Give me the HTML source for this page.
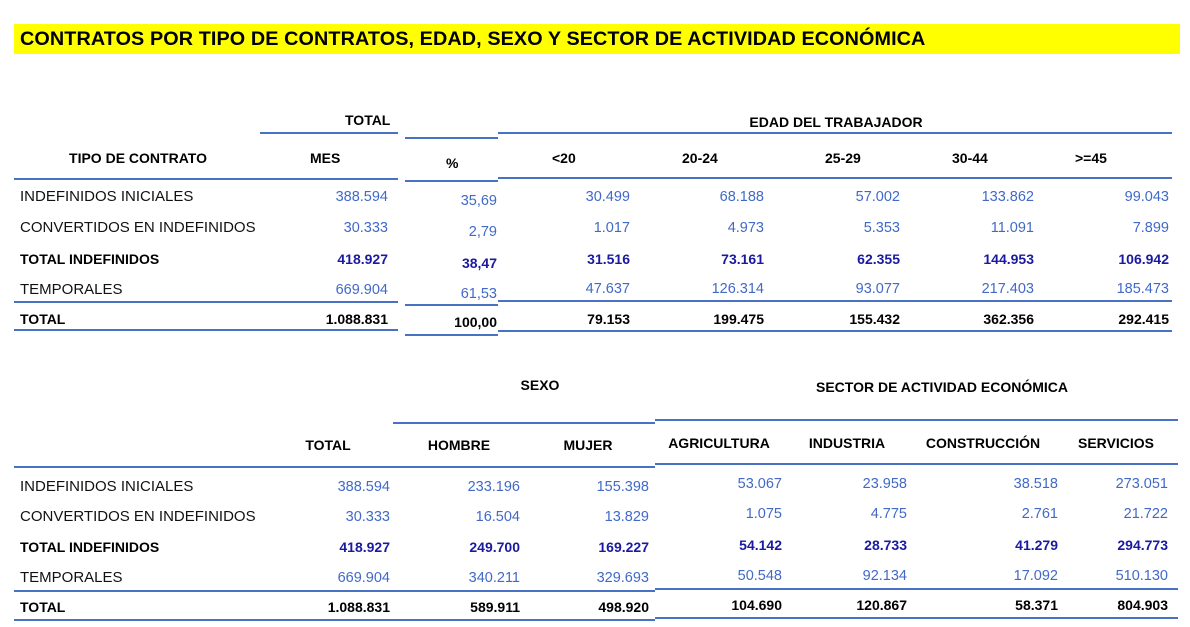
<!DOCTYPE html>
<html><head><meta charset="utf-8"><style>
body{margin:0;width:1190px;height:627px;background:#fff;position:relative;overflow:hidden;font-family:"Liberation Sans",Arial,sans-serif;}
div{position:absolute;white-space:nowrap;}
.t{font-size:15px;line-height:16px;color:#111;}
.v{color:#4169c8;font-size:14.5px;line-height:16px;}
.d{color:#1a1aa0;font-weight:bold;font-size:14px;line-height:16px;}
.k{color:#000;font-weight:bold;font-size:14px;line-height:16px;}
.ln{height:2px;background:#4a72c4;}
.c{transform:translateX(-50%);}
</style></head><body>
<div style="left:14px;top:24px;width:1166px;height:30px;background:#ffff00;"></div>
<div style="left:20px;top:28px;font-weight:bold;font-size:19.8px;line-height:22px;color:#000;letter-spacing:0.1px;">CONTRATOS POR TIPO DE CONTRATOS, EDAD, SEXO Y SECTOR DE ACTIVIDAD ECONÓMICA</div>

<div class="k" style="left:345px;top:112px;">TOTAL</div>
<div class="k c" style="left:836px;top:114px;">EDAD DEL TRABAJADOR</div>
<div class="ln" style="left:260px;top:132px;width:138px;"></div>
<div class="ln" style="left:405px;top:137px;width:93px;"></div>
<div class="ln" style="left:498px;top:132px;width:674px;"></div>
<div class="k c" style="left:138px;top:150px;">TIPO DE CONTRATO</div>
<div class="k" style="left:310px;top:150px;">MES</div>
<div class="k" style="left:446px;top:155px;">%</div>
<div class="k" style="left:552px;top:150px;">&lt;20</div>
<div class="k" style="left:682px;top:150px;">20-24</div>
<div class="k" style="left:825px;top:150px;">25-29</div>
<div class="k" style="left:952px;top:150px;">30-44</div>
<div class="k" style="left:1075px;top:150px;">&gt;=45</div>
<div class="ln" style="left:14px;top:178px;width:384px;"></div>
<div class="ln" style="left:405px;top:180px;width:93px;"></div>
<div class="ln" style="left:498px;top:177px;width:674px;"></div>

<div class="t" style="left:20px;top:189px;">INDEFINIDOS INICIALES</div>
<div class="t" style="left:20px;top:220px;">CONVERTIDOS EN INDEFINIDOS</div>
<div class="t k" style="left:20px;top:251px;">TOTAL INDEFINIDOS</div>
<div class="t" style="left:20px;top:282px;">TEMPORALES</div>
<div class="t k" style="left:20px;top:311px;">TOTAL</div>

<div class="v" style="right:802px;top:189px;">388.594</div>
<div class="v" style="right:802px;top:220px;">30.333</div>
<div class="d" style="right:802px;top:251px;">418.927</div>
<div class="v" style="right:802px;top:282px;">669.904</div>
<div class="k" style="right:802px;top:311px;">1.088.831</div>

<div class="v" style="right:693px;top:193px;">35,69</div>
<div class="v" style="right:693px;top:224px;">2,79</div>
<div class="d" style="right:693px;top:255px;">38,47</div>
<div class="v" style="right:693px;top:286px;">61,53</div>
<div class="k" style="right:693px;top:314px;">100,00</div>

<div class="v" style="right:560px;top:189px;">30.499</div>
<div class="v" style="right:560px;top:220px;">1.017</div>
<div class="d" style="right:560px;top:251px;">31.516</div>
<div class="v" style="right:560px;top:281px;">47.637</div>
<div class="k" style="right:560px;top:311px;">79.153</div>

<div class="v" style="right:426px;top:189px;">68.188</div>
<div class="v" style="right:426px;top:220px;">4.973</div>
<div class="d" style="right:426px;top:251px;">73.161</div>
<div class="v" style="right:426px;top:281px;">126.314</div>
<div class="k" style="right:426px;top:311px;">199.475</div>

<div class="v" style="right:290px;top:189px;">57.002</div>
<div class="v" style="right:290px;top:220px;">5.353</div>
<div class="d" style="right:290px;top:251px;">62.355</div>
<div class="v" style="right:290px;top:281px;">93.077</div>
<div class="k" style="right:290px;top:311px;">155.432</div>

<div class="v" style="right:156px;top:189px;">133.862</div>
<div class="v" style="right:156px;top:220px;">11.091</div>
<div class="d" style="right:156px;top:251px;">144.953</div>
<div class="v" style="right:156px;top:281px;">217.403</div>
<div class="k" style="right:156px;top:311px;">362.356</div>

<div class="v" style="right:21px;top:189px;">99.043</div>
<div class="v" style="right:21px;top:220px;">7.899</div>
<div class="d" style="right:21px;top:251px;">106.942</div>
<div class="v" style="right:21px;top:281px;">185.473</div>
<div class="k" style="right:21px;top:311px;">292.415</div>

<div class="ln" style="left:14px;top:301px;width:384px;"></div>
<div class="ln" style="left:405px;top:304px;width:93px;"></div>
<div class="ln" style="left:498px;top:300px;width:674px;"></div>
<div class="ln" style="left:14px;top:329px;width:384px;"></div>
<div class="ln" style="left:405px;top:334px;width:93px;"></div>
<div class="ln" style="left:498px;top:330px;width:674px;"></div>

<div class="k c" style="left:540px;top:377px;">SEXO</div>
<div class="k c" style="left:942px;top:379px;">SECTOR DE ACTIVIDAD ECONÓMICA</div>
<div class="ln" style="left:393px;top:422px;width:262px;"></div>
<div class="ln" style="left:655px;top:419px;width:523px;"></div>
<div class="k c" style="left:328px;top:437px;">TOTAL</div>
<div class="k c" style="left:459px;top:437px;">HOMBRE</div>
<div class="k c" style="left:588px;top:437px;">MUJER</div>
<div class="k c" style="left:719px;top:435px;">AGRICULTURA</div>
<div class="k c" style="left:847px;top:435px;">INDUSTRIA</div>
<div class="k c" style="left:983px;top:435px;">CONSTRUCCIÓN</div>
<div class="k c" style="left:1116px;top:435px;">SERVICIOS</div>
<div class="ln" style="left:14px;top:466px;width:641px;"></div>
<div class="ln" style="left:655px;top:463px;width:523px;"></div>

<div class="t" style="left:20px;top:479px;">INDEFINIDOS INICIALES</div>
<div class="t" style="left:20px;top:509px;">CONVERTIDOS EN INDEFINIDOS</div>
<div class="t k" style="left:20px;top:539px;">TOTAL INDEFINIDOS</div>
<div class="t" style="left:20px;top:570px;">TEMPORALES</div>
<div class="t k" style="left:20px;top:599px;">TOTAL</div>

<div class="v" style="right:800px;top:479px;">388.594</div>
<div class="v" style="right:800px;top:509px;">30.333</div>
<div class="d" style="right:800px;top:539px;">418.927</div>
<div class="v" style="right:800px;top:570px;">669.904</div>
<div class="k" style="right:800px;top:599px;">1.088.831</div>

<div class="v" style="right:670px;top:479px;">233.196</div>
<div class="v" style="right:670px;top:509px;">16.504</div>
<div class="d" style="right:670px;top:539px;">249.700</div>
<div class="v" style="right:670px;top:570px;">340.211</div>
<div class="k" style="right:670px;top:599px;">589.911</div>

<div class="v" style="right:541px;top:479px;">155.398</div>
<div class="v" style="right:541px;top:509px;">13.829</div>
<div class="d" style="right:541px;top:539px;">169.227</div>
<div class="v" style="right:541px;top:570px;">329.693</div>
<div class="k" style="right:541px;top:599px;">498.920</div>

<div class="v" style="right:408px;top:476px;">53.067</div>
<div class="v" style="right:408px;top:506px;">1.075</div>
<div class="d" style="right:408px;top:537px;">54.142</div>
<div class="v" style="right:408px;top:568px;">50.548</div>
<div class="k" style="right:408px;top:597px;">104.690</div>

<div class="v" style="right:283px;top:476px;">23.958</div>
<div class="v" style="right:283px;top:506px;">4.775</div>
<div class="d" style="right:283px;top:537px;">28.733</div>
<div class="v" style="right:283px;top:568px;">92.134</div>
<div class="k" style="right:283px;top:597px;">120.867</div>

<div class="v" style="right:132px;top:476px;">38.518</div>
<div class="v" style="right:132px;top:506px;">2.761</div>
<div class="d" style="right:132px;top:537px;">41.279</div>
<div class="v" style="right:132px;top:568px;">17.092</div>
<div class="k" style="right:132px;top:597px;">58.371</div>

<div class="v" style="right:22px;top:476px;">273.051</div>
<div class="v" style="right:22px;top:506px;">21.722</div>
<div class="d" style="right:22px;top:537px;">294.773</div>
<div class="v" style="right:22px;top:568px;">510.130</div>
<div class="k" style="right:22px;top:597px;">804.903</div>

<div class="ln" style="left:14px;top:590px;width:641px;"></div>
<div class="ln" style="left:655px;top:588px;width:523px;"></div>
<div class="ln" style="left:14px;top:619px;width:641px;"></div>
<div class="ln" style="left:655px;top:617px;width:523px;"></div>
</body></html>
